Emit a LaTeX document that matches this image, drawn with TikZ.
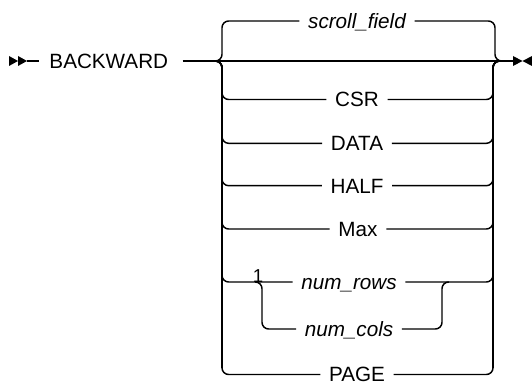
\documentclass[tikz,border=0pt]{standalone}
\usepackage{fontspec}
\setmainfont{Liberation Sans}
\begin{document}
\begin{tikzpicture}[x=0.75pt,y=-0.75pt, line width=1.1pt,
  lbl/.style={font=\fontsize{15.5}{18}\selectfont, text height=11.1pt, text depth=0pt, inner xsep=6pt, inner ysep=0pt},
  itl/.style={lbl, font=\fontsize{15.5}{18}\selectfont\itshape},
  br/.style={rounded corners=5pt},
  thickv/.style={line width=1.7pt}]
\useasboundingbox (0,0) rectangle (532,385);
% nodes
\node[lbl] (bw) at (108.8,61) {BACKWARD};
\node[itl] (sf) at (357,21) {scroll\_field};
\node[lbl] (csr) at (357,99.5) {CSR};
\node[lbl] (data) at (357,143.3) {DATA};
\node[lbl] (half) at (357,185.7) {HALF};
\node[lbl] (max) at (358,229) {Max};
\node[itl] (nr) at (349,282) {num\_rows};
\node[itl] (nc) at (349,329) {num\_cols};
\node[lbl] (page) at (357,374.5) {PAGE};
\node[font=\fontsize{14}{16}\selectfont, anchor=base, inner sep=0pt] (one) at (258,282) {1};
% coordinates
\coordinate (a1) at (27,61);
\coordinate (a2) at (39,61);
\coordinate (m0) at (182.5,61);
\coordinate (J) at (215,61);
\coordinate (R) at (503,61);
\coordinate (e0) at (513,61);
\coordinate (IJ) at (255,282);
\coordinate (IR) at (449,282);
\coordinate (lv1) at (222,68);
\coordinate (lv2) at (222,368);
\coordinate (rv1) at (493,68);
\coordinate (rv2) at (493,368);
% start / end marks
\fill (9,56) -- (18,61) -- (9,66) -- cycle;
\fill (18,56) -- (27,61) -- (18,66) -- cycle;
\draw (a1) -- (a2);
\fill (513,56) -- (522.5,61) -- (513,66) -- cycle;
\fill (532,56) -- (522.5,61) -- (532,66) -- cycle;
% main line
\draw (m0) -- (e0);
% top branch
\draw[br] (J) -| (222,21) -- (sf.west);
\draw[br] (sf.east) -| (495,61) -- (R);
% lower branches
\foreach \n/\y in {csr/99.5, data/143.3, half/185.7, max/229, nr/282, page/374.5} {
  \draw[br] (J) -| (222,\y) -- (\n.west);
  \draw[br] (\n.east) -| (493,61) -- (R);
}
\draw[thickv] (lv1) -- (lv2);
\draw[thickv] (rv1) -- (rv2);
% inner branch
\draw[br] (IJ) -| (262,329) -- (nc.west);
\draw[br] (nc.east) -| (442,282) -- (IR);
\end{tikzpicture}
\end{document}
